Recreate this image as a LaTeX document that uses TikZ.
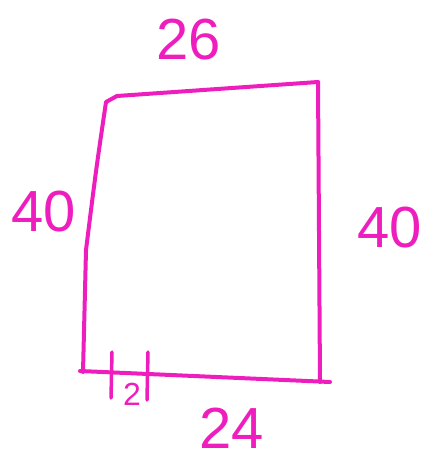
\documentclass[tikz,border=0pt]{standalone}
\usepackage{fontspec}
\setmainfont{Liberation Sans}
\usetikzlibrary{positioning}
\definecolor{pen}{RGB}{238,30,190}

\begin{document}
\begin{tikzpicture}[x=1pt, y=-1pt]

\tikzstyle{stroke} = [draw=pen, line width=4pt, line cap=round, line join=round];
\tikzstyle{label} = [text=pen, font=\fontsize{58}{58}\selectfont, inner sep=0pt];

\useasboundingbox (0,0) rectangle (437,473);

% corners of the quadrilateral
\coordinate (tl) at (117,96);
\coordinate (tr) at (318,82);
\coordinate (bl) at (80,371);
\coordinate (br) at (330,382);
\coordinate (lt) at (106,102);
\coordinate (lm) at (86,250);
\coordinate (lb) at (83,372);
\coordinate (rb) at (320,382);

\draw[stroke] (tl) -- (tr);
\draw[stroke] (tr) -- (rb);
\draw[stroke] (bl) -- (br);
\draw[stroke] (tl) -- (lt) .. controls (96,170) .. (lm) -- (lb);

% tick marks on the bottom edge
\coordinate (t1a) at (112,352);
\coordinate (t1b) at (111,398);
\coordinate (t2a) at (148,352);
\coordinate (t2b) at (147,400);
\draw[stroke, line width=3.5pt] (t1a) -- (t1b);
\draw[stroke, line width=3.5pt] (t2a) -- (t2b);
\node[text=pen, font=\fontsize{32}{32}\selectfont, inner sep=0pt] (half) at (132,394) {2};

% side lengths
\node[label] (top) at (189,40) {26};
\node[label] (left) at (44,212) {40};
\node[label] (right) at (390,228) {40};
\node[label] (bottom) at (232,428) {24};

\end{tikzpicture}
\end{document}
